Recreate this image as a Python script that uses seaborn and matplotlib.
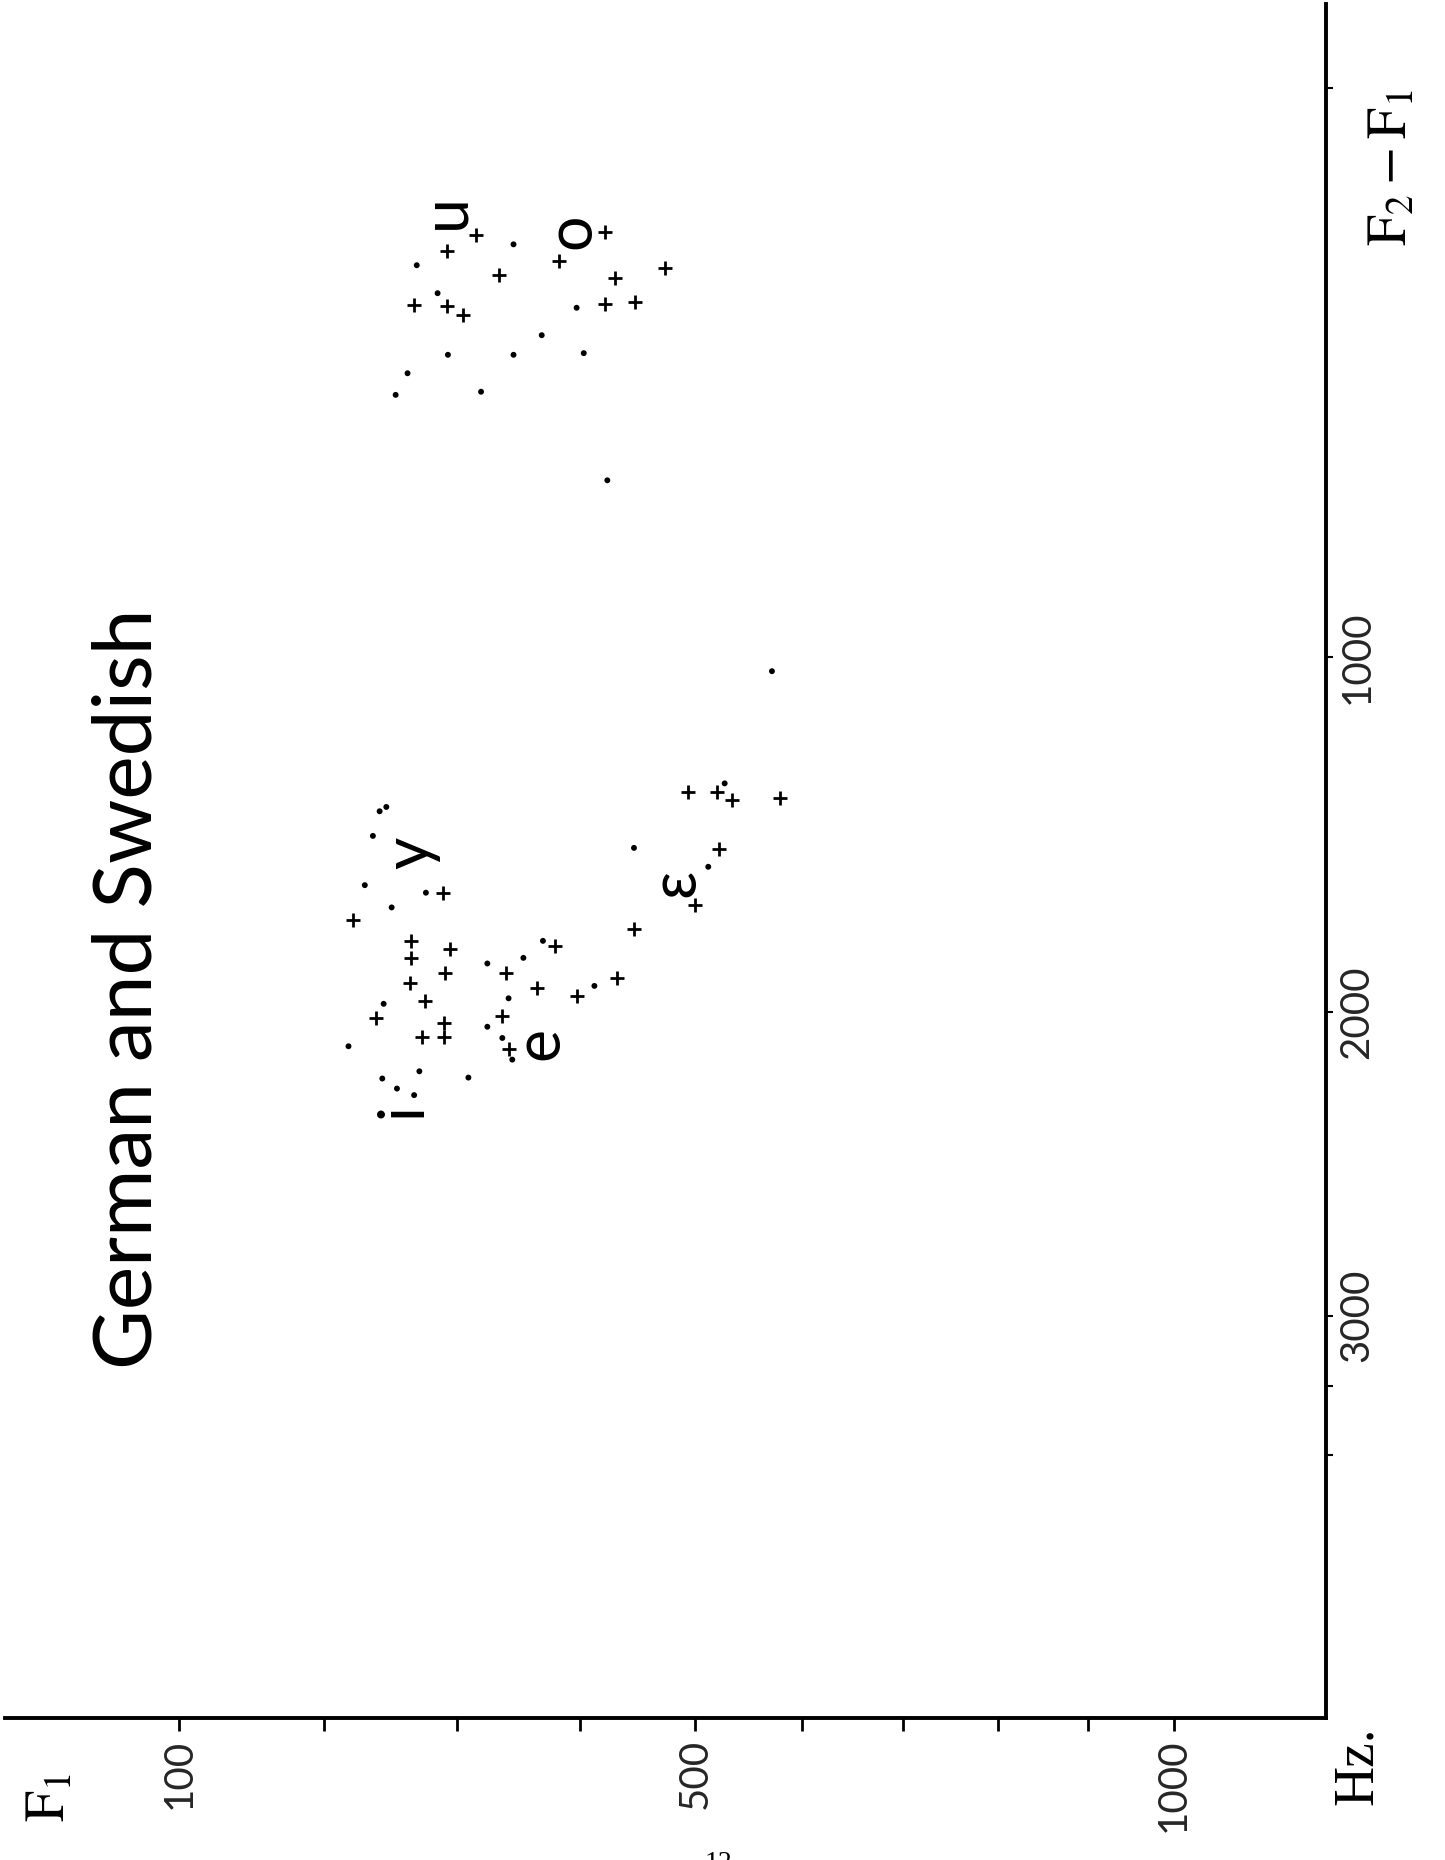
import numpy as np
import pandas as pd
import matplotlib
matplotlib.use("Agg")
import matplotlib.pyplot as plt
from matplotlib.ticker import FixedLocator, NullFormatter
import seaborn as sns

# ---------------- data (Hz) ----------------
# "+" symbols
plus_f1 = [315, 292, 333, 382, 421, 473, 430, 267, 292, 305, 421, 447,
           494, 520, 534, 579, 522, 500, 446, 431, 397, 379, 364, 339,
           336, 341, 289, 221, 265, 295, 265, 291, 264, 275, 238, 290,
           273, 290]
plus_f2f1 = [145, 168, 204, 183, 140, 193, 208, 253, 254, 269, 250, 247,
             1355, 1357, 1378, 1373, 1514, 1677, 1749, 1896, 1949, 1798, 1926, 1881,
             2012, 2113, 1641, 1721, 1784, 1806, 1834, 1881, 1909, 1965, 2019, 2032,
             2077, 2077]
# "." symbols
dot_f1 = [345, 269, 285, 397, 368, 293, 345, 403, 262, 253, 319, 423,
          571,
          527, 446, 512, 412, 369, 353, 324, 341, 324, 336, 344, 309,
          241, 246, 236, 230, 276, 250, 244, 218, 271, 243, 254, 267]
dot_f2f1 = [158, 189, 233, 257, 304, 339, 339, 336, 373, 414, 408, 588,
            1036,
            1332, 1512, 1566, 1919, 1783, 1834, 1851, 1957, 2045, 2080, 2148, 2205,
            1409, 1397, 1478, 1619, 1641, 1684, 1974, 2106, 2185, 2208, 2240, 2261]

vowels = ["u", "o", "i", "y", "e", "ɛ"]
vowel_f1 = [306, 409, 273, 279, 382, 499]
vowel_f2f1 = [113, 140, 2311, 1526, 2096, 1612]

f1_major = [100, 500, 1000]
f1_minor = [200, 300, 400, 600, 700, 800, 900]
f2f1_major = [1000, 2000, 3000]
f2f1_minor = [0, 3250, 3500]

title = "German and Swedish"

# ---------------- scales ----------------
def fwd_x(v):
    v = np.asarray(v, dtype=float)
    return np.log10(1.0 + v / 1000.0)

def inv_x(u):
    u = np.asarray(u, dtype=float)
    return 1000.0 * (10.0 ** u - 1.0)

def fwd_y(v):
    v = np.asarray(v, dtype=float)
    return np.sign(v) * np.abs(v) ** 0.7

def inv_y(u):
    u = np.asarray(u, dtype=float)
    return np.sign(u) * np.abs(u) ** (1.0 / 0.7)

# ---------------- style ----------------
sns.set_theme(style="white")
plt.rcParams["font.family"] = ["Lato", "DejaVu Sans"]
plt.rcParams["mathtext.fontset"] = "stix"

W, H = 1445, 1860
fig = plt.figure(figsize=(W / 100, H / 100), dpi=100)
fig.patch.set_facecolor("white")
L, R, T, B = 5, 1326, 4, 1718
ax = fig.add_axes([L / W, 1 - B / H, (R - L) / W, (B - T) / H])
ax.set_facecolor("white")

plus_df = pd.DataFrame({"F1": plus_f1, "F2-F1": plus_f2f1})
dot_df = pd.DataFrame({"F1": dot_f1, "F2-F1": dot_f2f1})

sns.scatterplot(data=plus_df, x="F1", y="F2-F1", marker="+", s=95,
                color="black", linewidth=2.0, ax=ax, zorder=3)
sns.scatterplot(data=dot_df, x="F1", y="F2-F1", marker="o", s=18,
                color="black", edgecolor="none", ax=ax, zorder=3)

ax.set_xscale("function", functions=(fwd_x, inv_x))
ax.set_yscale("function", functions=(fwd_y, inv_y))
ax.set_xlim(-9.2, 1191.8)
ax.set_ylim(4498, -65)
ax.set_xlabel("")
ax.set_ylabel("")

# ticks
ax.xaxis.set_major_locator(FixedLocator(f1_major))
ax.xaxis.set_minor_locator(FixedLocator(f1_minor))
ax.set_xticklabels([str(v) for v in f1_major])
ax.xaxis.set_minor_formatter(NullFormatter())
ax.yaxis.tick_right()
ax.yaxis.set_major_locator(FixedLocator(f2f1_major))
ax.yaxis.set_minor_locator(FixedLocator(f2f1_minor))
ax.set_yticklabels([str(v) for v in f2f1_major])
ax.yaxis.set_minor_formatter(NullFormatter())

ax.tick_params(axis="x", which="both", direction="out", length=9, width=2,
               color="black", pad=6, labelsize=29, labelrotation=90,
               bottom=True, top=False)
ax.tick_params(axis="y", which="both", direction="out", length=5, width=1.5,
               color="black", pad=4, labelsize=29, labelrotation=90,
               right=True, left=False, labelright=True, labelleft=False)
for lab in ax.get_yticklabels():
    lab.set_verticalalignment("center")
    lab.set_horizontalalignment("left")

for side in ["left", "top"]:
    ax.spines[side].set_visible(False)
for side in ["bottom", "right"]:
    ax.spines[side].set_visible(True)
    ax.spines[side].set_linewidth(2.8)
    ax.spines[side].set_color("black")
ax.grid(False)

# vowel labels
for v, x, y in zip(vowels, vowel_f1, vowel_f2f1):
    ax.text(x, y, v, rotation=90, rotation_mode="anchor", ha="center",
            va="baseline", fontsize=45, color="black",
            family=["Lato", "DejaVu Sans"], zorder=4)

# title and axis captions
fig.text(152 / W, 1 - 989 / H, title, rotation=90, rotation_mode="anchor",
         ha="center", va="baseline", fontsize=59, color="black")
fig.text(64 / W, 1 - 1797 / H, r"$\mathrm{F}_1$", rotation=90,
         rotation_mode="anchor", ha="center", va="baseline", fontsize=40,
         color="black")
fig.text(1406 / W, 1 - 168 / H, r"$\mathrm{F}_2 - \mathrm{F}_1$", rotation=90,
         rotation_mode="anchor", ha="center", va="baseline", fontsize=40,
         color="black")
fig.text(1372 / W, 1 - 1766 / H, "Hz.", rotation=90, rotation_mode="anchor",
         ha="center", va="baseline", fontsize=40, color="black",
         family=["Liberation Serif", "DejaVu Serif"])
fig.text(718 / W, 1 - 1851 / H, "12", ha="center", va="top", fontsize=20,
         color="black", family=["Liberation Serif", "DejaVu Serif"])

fig.savefig("out.png", dpi=100, facecolor="white")
